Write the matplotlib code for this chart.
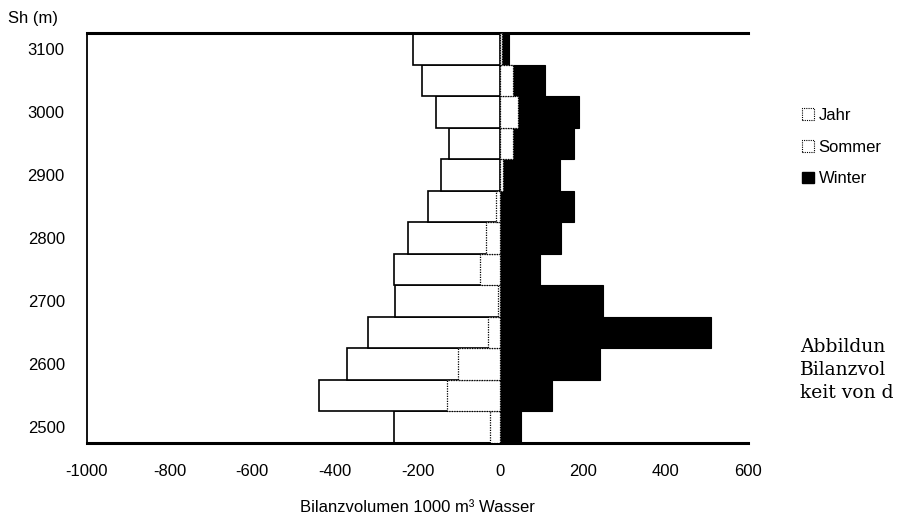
import matplotlib
matplotlib.use("Agg")
import matplotlib.pyplot as plt
from matplotlib.patches import Patch

# Data (Seehöhe bands, values in 1000 m^3 water)
hoehe   = [2500, 2550, 2600, 2650, 2700, 2750, 2800, 2850, 2900, 2950, 3000, 3050, 3100]
sommer  = [-257, -438, -370, -320, -255, -257, -223, -175, -143, -124, -155, -190, -211]
winter  = [50, 125, 242, 511, 250, 97, 148, 180, 144, 179, 190, 109, 22]
jahr    = [-24, -129, -102, -29, -5, -48, -34, -9, 6, 32, 43, 32, 4]
yticks  = [2500, 2600, 2700, 2800, 2900, 3000, 3100]
xticks  = [-1000, -800, -600, -400, -200, 0, 200, 400, 600]

plt.rcParams['font.family'] = ['Liberation Sans', 'DejaVu Sans']

fig = plt.figure(figsize=(9.01, 5.27), dpi=100)
ax = fig.add_axes([87/901, 1-443/527, (748-87)/901, (443-33)/527])

h = 50
ax.barh(hoehe, sommer, height=h, color='white', edgecolor='black', linewidth=1.2, zorder=2)
ax.barh(hoehe, winter, height=h, color='black', edgecolor='black', linewidth=0.8, zorder=3)
ax.barh(hoehe, jahr, height=h, color='white', edgecolor='black', linewidth=0.9,
        linestyle=(0, (1, 1)), zorder=4)

ax.set_xlim(-1000, 600)
ax.set_ylim(2475, 3125)
ax.set_xticks(xticks)
ax.set_xticklabels([str(v) for v in xticks])
ax.set_yticks(yticks)
ax.set_yticklabels([str(v) for v in yticks])
ax.tick_params(axis='both', length=0, labelsize=12)
ax.tick_params(axis='x', pad=15)
ax.tick_params(axis='y', pad=16)

ax.spines['right'].set_visible(False)
ax.spines['top'].set_linewidth(2.2)
ax.spines['bottom'].set_linewidth(2.2)
ax.spines['left'].set_linewidth(1.3)

ax.set_xlabel('Bilanzvolumen 1000 m³ Wasser', fontsize=12, labelpad=15)
fig.text(8/901, 1-18/527, 'Sh (m)', fontsize=12, ha='left', va='center')

handles = [
    Patch(facecolor='white', edgecolor='black', linewidth=0.8, linestyle=(0, (1, 1)), label='Jahr'),
    Patch(facecolor='white', edgecolor='black', linewidth=0.8, linestyle=(0, (1, 1)), label='Sommer'),
    Patch(facecolor='black', edgecolor='black', label='Winter'),
]
fig.legend(handles=handles, loc='upper left', bbox_to_anchor=(802/901, 1-108/527),
           frameon=False, fontsize=12, handlelength=0.7, handleheight=0.7,
           handletextpad=0.3, labelspacing=1.0, borderaxespad=0, borderpad=0)

for i, t in enumerate(['Abbildun', 'Bilanzvol', 'keit von d']):
    fig.text(800/901, 1-(347+23*i)/527, t, fontsize=13.5, family='DejaVu Serif',
             ha='left', va='center')

fig.savefig('out.png', dpi=100)
